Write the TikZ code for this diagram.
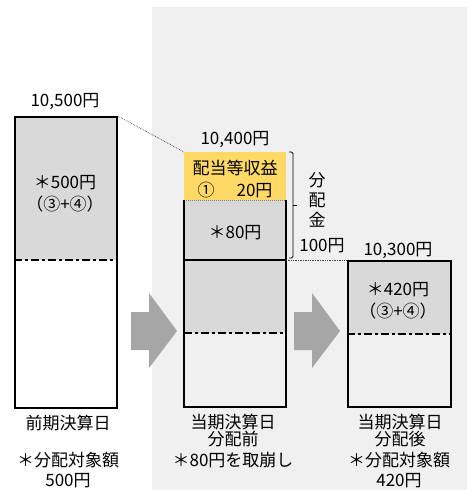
\documentclass[tikz,border=0pt]{standalone}
\usepackage{fontspec}
\setmainfont{Noto Sans CJK JP}
\usetikzlibrary{positioning}
\definecolor{panelgray}{HTML}{F0F0F0}
\definecolor{bargray}{HTML}{D9D9D9}
\definecolor{arrowgray}{HTML}{A6A6A6}
\definecolor{incomeyellow}{HTML}{FFD966}
\tikzset{
  lbl/.style={inner sep=0pt, align=center, font=\fontsize{17}{17}\selectfont},
  barnode/.style={inner sep=0pt, minimum width=102pt, anchor=north west},
  dashdot/.style={line width=2pt, dash pattern=on 8pt off 3pt on 3pt off 3pt},
  thinlink/.style={densely dotted, line width=0.7pt, black!75},
}

\begin{document}
\begin{tikzpicture}[x=1pt, y=-1pt]
				\useasboundingbox (0,0) rectangle (469,492);
				% Panel behind the current term:
				\fill[panelgray] (152,7) rectangle (467,490);
				% Previous term bar:
				\fill[bargray] (14,116) rectangle (116,260);
				\draw[dashdot] (14,260) -- (116,260);
				\node[barnode, draw, line width=2pt, minimum height=291pt] (prevbar) at (14,116) {};
				% Current term, before distribution:
				\node[barnode, fill=incomeyellow, minimum height=48pt] (incomebox) at (184,152) {};
				\node[barnode, fill=bargray, minimum height=133pt] (midgray) at (184,200) {};
				\node[barnode, minimum height=207pt] (midbar) at (184,200) {};
				\coordinate (midcut) at (286,260);
				\draw[line width=2pt] (184,260) -- (midcut);
				\draw[dashdot] (184,333) -- (286,333);
				\draw[gray, densely dotted, line width=1pt] (midbar.north west) -- (midbar.north east);
				\draw[line width=2pt] (midbar.north west) |- (midbar.south east) -- (midbar.north east);
				% Current term, after distribution:
				\fill[bargray] (347,260) rectangle (450,334);
				\draw[dashdot] (347,334) -- (450,334);
				\node[barnode, draw, line width=2pt, minimum width=103pt, minimum height=146pt] (nextbar) at (347,260) {};
				% Links:
				\draw[thinlink] (prevbar.north east) -- (incomebox.north west);
				\draw[thinlink] (midcut) -- (nextbar.north west);
				% Brace:
				\draw[line width=0.9pt, rounded corners=1.5pt] (289,152) -- (293,152) -- (293,258) -- (289,258);
				\draw[line width=0.9pt] (293,205) -- (297,205);
				% Arrows:
				\foreach \dx in {0,163}
					\fill[arrowgray, xshift=\dx] (131,312) -- (149,312) -- (149,293) -- (177,331) -- (149,368) -- (149,350) -- (131,350) -- cycle;
				% Texts:
				\node[lbl] (prevtotal) at (65,102) {10,500円};
				\node[lbl] (prevamount) at (65,194) {＊500円\\[5pt]（③+④）};
				\node[lbl] (midtotal) at (235,140) {10,400円};
				\node[lbl] (incometext) at (235,179) {配当等収益\\[5pt]①\hspace{22pt}20円};
				\node[lbl] (midamount) at (235,233) {＊80円};
				\node[lbl, font=\fontsize{17}{20}\selectfont] (divtext) at (317,200) {分\\配\\金};
				\node[lbl] (divamount) at (322,246) {100円};
				\node[lbl] (nexttotal) at (398,251) {10,300円};
				\node[lbl] (nextamount) at (398,301) {＊420円\\[5pt]（③+④）};
				\node[lbl] (prevdate) at (68,423) {前期決算日};
				\node[lbl] (prevnote) at (68,470) {＊分配対象額\\[3pt]500円};
				\node[lbl] (middate) at (233,431) {当期決算日\\分配前};
				\node[lbl] (midnote) at (233,460) {＊80円を取崩し};
				\node[lbl] (nextdate) at (400,431) {当期決算日\\分配後};
				\node[lbl] (nextnote) at (399,470) {＊分配対象額\\[3pt]420円};
			\end{tikzpicture}
\end{document}
